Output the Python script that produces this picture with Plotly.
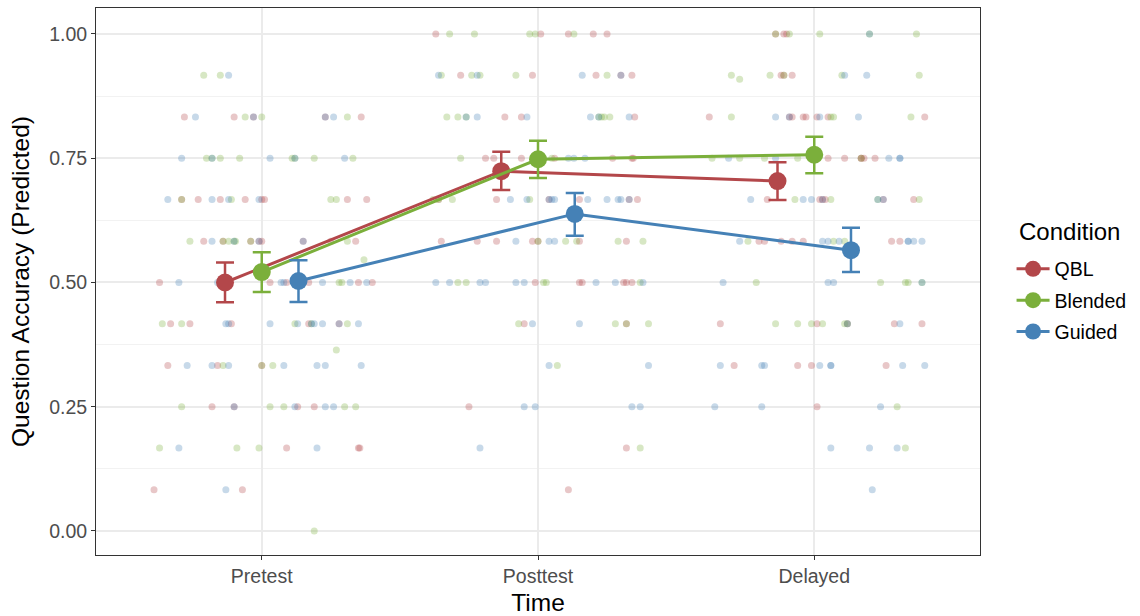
import plotly.graph_objects as go

# ---------------- data ----------------
times = ["Pretest", "Posttest", "Delayed"]
conditions = ["QBL", "Blended", "Guided"]

# model-predicted means and 95% CI bounds (per time)
qbl_mean = [0.500, 0.724, 0.704]
qbl_hi = [0.540, 0.763, 0.742]
qbl_lo = [0.460, 0.686, 0.666]
blended_mean = [0.521, 0.748, 0.757]
blended_hi = [0.561, 0.785, 0.793]
blended_lo = [0.481, 0.710, 0.720]
guided_mean = [0.503, 0.638, 0.565]
guided_hi = [0.545, 0.680, 0.610]
guided_lo = [0.461, 0.594, 0.521]

# raw (jittered) observations: accuracy and horizontal jitter, per condition & time
qbl_pre_acc = [0.833]*5 + [0.667]*8 + [0.583]*8 + [0.5]*8 + [0.417]*5 + [0.333]*3 + [0.25]*4 + [0.167]*3 + [0.083]*2
qbl_pre_jit = [-0.28, -0.10, -0.03, 0.23, 0.36,
               -0.29, -0.23, -0.15, -0.06, 0.00, 0.01, 0.31, 0.38,
               -0.21, -0.14, -0.04, -0.01, 0.00, 0.15, 0.34, 0.25,
               -0.37, -0.13, 0.03, 0.09, 0.12, 0.17, 0.35, 0.40,
               -0.33, -0.26, -0.11, 0.17, 0.28,
               -0.34, -0.16, 0.00,
               -0.18, -0.10, 0.13, 0.19,
               0.09, 0.35, 0.355,
               -0.39, -0.07]
qbl_post_acc = [1.0]*5 + [0.917]*5 + [0.833]*3 + [0.75]*7 + [0.667]*6 + [0.583]*7 + [0.5]*6 + [0.417]*2 + [0.25] + [0.167] + [0.083]
qbl_post_jit = [-0.37, 0.01, 0.11, 0.20, 0.25,
                -0.28, -0.02, 0.21, 0.30, 0.34,
                -0.12, -0.06, 0.35,
                -0.19, -0.16, -0.06, 0.06, 0.27, 0.34, 0.345,
                -0.36, -0.15, 0.04, 0.15, 0.33, 0.36,
                -0.35, -0.22, -0.15, -0.02, 0.00, 0.15, 0.32,
                -0.01, 0.15, 0.16, 0.31, 0.32, 0.34,
                -0.05, 0.32,
                -0.25,
                0.32,
                0.11]
qbl_del_acc = [1.0]*3 + [0.917]*3 + [0.833]*8 + [0.75]*6 + [0.667]*6 + [0.583]*7 + [0.417]*5 + [0.333]*4 + [0.25]
qbl_del_jit = [-0.14, -0.11, -0.10,
               -0.12, -0.11, -0.08,
               -0.38, -0.09, -0.08, -0.04, -0.03, 0.01, 0.05, 0.40,
               0.05, 0.11, 0.17, 0.17, 0.18, 0.22,
               -0.17, 0.02, 0.03, 0.04, 0.25, 0.36,
               -0.20, -0.18, -0.12, -0.08, -0.04, 0.28, 0.31,
               -0.34, 0.01, 0.12, 0.29, 0.39,
               -0.29, -0.06, -0.01, 0.26,
               0.01]

blended_pre_acc = [0.917]*2 + [0.833]*3 + [0.75]*8 + [0.667]*4 + [0.583]*7 + [0.546] + [0.5]*2 + [0.417]*5 + [0.364] + [0.333]*3 + [0.25]*5 + [0.167]*3 + [0.0]
blended_pre_jit = [-0.21, -0.15,
                   -0.06, 0.00, 0.31,
                   -0.20, -0.18, -0.15, -0.08, 0.11, 0.12, 0.19, 0.33,
                   -0.29, -0.11, 0.25, 0.27,
                   -0.26, -0.14, -0.12, -0.10, -0.095, -0.04, 0.31,
                   0.37,
                   0.28, 0.29,
                   -0.36, -0.29, 0.12, 0.18, 0.31,
                   0.27,
                   -0.14, 0.00, 0.04,
                   -0.29, 0.03, 0.08, 0.30, 0.34,
                   -0.37, -0.09, -0.01,
                   0.19]
blended_post_acc = [1.0]*5 + [0.917]*5 + [0.833]*7 + [0.75]*3 + [0.667]*4 + [0.583]*5 + [0.5]*5 + [0.417]*4 + [0.333] + [0.167]
blended_post_jit = [-0.32, -0.23, -0.03, -0.01, 0.13,
                    -0.35, -0.24, -0.21, -0.08, 0.25,
                    -0.33, -0.29, -0.26, 0.22, 0.23, 0.24, 0.26,
                    -0.28, 0.02, 0.05,
                    -0.38, -0.36, -0.31, -0.03,
                    0.00, 0.10, 0.14, 0.29, 0.38,
                    -0.29, -0.26, 0.02, 0.03, 0.37,
                    -0.07, 0.28, 0.32, 0.40,
                    0.07,
                    0.37]
blended_del_acc = [1.0]*5 + [0.917]*5 + [0.909] + [0.833]*4 + [0.75]*6 + [0.667]*4 + [0.583]*3 + [0.5]*5 + [0.417]*6 + [0.25] + [0.167]
blended_del_jit = [-0.14, -0.09, 0.02, 0.20, 0.37,
                   -0.30, -0.16, -0.11, 0.10, 0.38,
                   -0.27,
                   -0.30, 0.06, 0.07, 0.35,
                   -0.37, -0.27, -0.18, -0.06, 0.01, 0.17,
                   -0.07, 0.06, 0.23, 0.38,
                   -0.24, 0.07, 0.11,
                   -0.21, 0.24, 0.33, 0.34, 0.39,
                   -0.14, -0.06, -0.01, 0.03, 0.11, 0.12,
                   0.30,
                   0.33]

guided_pre_acc = [0.917] + [0.833]*4 + [0.75]*5 + [0.667]*4 + [0.583]*4 + [0.5]*9 + [0.417]*9 + [0.333]*7 + [0.25]*4 + [0.167]*2 + [0.083]
guided_pre_jit = [-0.12,
                  -0.24, -0.03, 0.23, 0.26,
                  -0.29, -0.18, 0.03, 0.12, 0.30,
                  -0.34, -0.18, -0.12, -0.01,
                  -0.18, -0.10, -0.01, 0.15,
                  -0.30, -0.16, -0.13, 0.07, 0.08, 0.12, 0.22, 0.32, 0.38,
                  -0.13, -0.12, 0.03, 0.13, 0.18, 0.19, 0.22, 0.28, 0.35,
                  -0.27, -0.18, -0.12, 0.08, 0.20, 0.23, 0.36,
                  -0.10, 0.12, 0.23, 0.26,
                  -0.30, 0.20,
                  -0.13]
guided_post_acc = [0.917]*4 + [0.833]*6 + [0.75]*3 + [0.667]*10 + [0.583]*3 + [0.5]*9 + [0.417]*2 + [0.333]*2 + [0.25]*4 + [0.167]
guided_post_jit = [-0.36, -0.22, 0.16, 0.30,
                   -0.26, -0.22, -0.04, 0.19, 0.22, 0.33,
                   0.11, 0.13, 0.17,
                   -0.10, -0.04, 0.04, 0.05, 0.06, 0.18, 0.25, 0.29, 0.30, 0.33,
                   -0.08, 0.04, 0.06,
                   -0.37, -0.32, -0.21, -0.19, -0.08, -0.05, 0.21, 0.28, 0.38,
                   -0.02, 0.15,
                   0.04, 0.40,
                   -0.05, -0.01, 0.34, 0.37,
                   -0.21]
guided_del_acc = [1.0] + [0.917]*2 + [0.833]*4 + [0.75]*6 + [0.667]*6 + [0.583]*8 + [0.5]*4 + [0.417]*2 + [0.333]*8 + [0.25]*3 + [0.167]*3 + [0.083]
guided_del_jit = [0.20,
                  0.11, 0.19,
                  -0.14, -0.09, 0.02, 0.16,
                  -0.31, -0.14, 0.01, 0.27, 0.31, 0.31,
                  -0.23, -0.04, -0.01, 0.03, 0.23, 0.25,
                  -0.27, 0.03, 0.05, 0.09, 0.34, 0.34, 0.36, 0.39,
                  -0.33, 0.05, 0.07, 0.39,
                  0.12, 0.31,
                  -0.34, -0.19, -0.18, 0.02, 0.06, 0.06, 0.32, 0.40,
                  -0.36, -0.19, 0.24,
                  0.06, 0.20, 0.30,
                  0.21]

# ---------------- style ----------------
colors = {"QBL": "#B3474A", "Blended": "#7BAF3B", "Guided": "#4581B6"}
dodge = {"QBL": -0.133, "Blended": 0.0, "Guided": 0.133}
font = "Liberation Sans, Arial, sans-serif"

raw = {
    "QBL": [(qbl_pre_jit, qbl_pre_acc), (qbl_post_jit, qbl_post_acc), (qbl_del_jit, qbl_del_acc)],
    "Blended": [(blended_pre_jit, blended_pre_acc), (blended_post_jit, blended_post_acc), (blended_del_jit, blended_del_acc)],
    "Guided": [(guided_pre_jit, guided_pre_acc), (guided_post_jit, guided_post_acc), (guided_del_jit, guided_del_acc)],
}
summ = {
    "QBL": (qbl_mean, qbl_lo, qbl_hi),
    "Blended": (blended_mean, blended_lo, blended_hi),
    "Guided": (guided_mean, guided_lo, guided_hi),
}

fig = go.Figure()

# jittered raw points
for cond in conditions:
    xs, ys = [], []
    for ti, (jit, acc) in enumerate(raw[cond]):
        n = min(len(jit), len(acc))
        xs += [ti + 1 + j for j in jit[:n]]
        ys += acc[:n]
    fig.add_trace(go.Scatter(
        x=xs, y=ys, mode="markers", showlegend=False, hoverinfo="skip",
        marker=dict(size=7, color=colors[cond], opacity=0.3, line=dict(width=0)),
    ))

# means with CI error bars
for cond in conditions:
    m, lo, hi = summ[cond]
    xs = [i + 1 + dodge[cond] for i in range(len(times))]
    fig.add_trace(go.Scatter(
        x=xs, y=m, mode="lines+markers", name=cond, legendgroup=cond,
        line=dict(color=colors[cond], width=3),
        marker=dict(size=18, color=colors[cond]),
        error_y=dict(type="data", symmetric=False,
                     array=[h - v for h, v in zip(hi, m)],
                     arrayminus=[v - l for l, v in zip(lo, m)],
                     color=colors[cond], thickness=2.5, width=9),
    ))

fig.add_annotation(
    text="Condition", xref="paper", yref="paper", x=1.0419, y=0.5905,
    xanchor="left", yanchor="middle", showarrow=False,
    font=dict(size=24, color="black"),
)

fig.update_layout(
    width=1140, height=616,
    margin=dict(l=96, r=160, t=8, b=61, autoexpand=False),
    paper_bgcolor="white", plot_bgcolor="white",
    font=dict(family=font, color="black"),
    legend=dict(
        font=dict(size=19.5, color="black"),
        x=1.0357, xanchor="left", y=0.465, yanchor="middle",
        itemwidth=33, tracegroupgap=3,
    ),
    xaxis=dict(
        range=[0.4, 3.6], tickvals=[1, 2, 3], ticktext=times, automargin=False,
        showgrid=True, gridcolor="#EBEBEB", gridwidth=1.6,
        zeroline=False, showline=True, linecolor="#333333", linewidth=1, mirror=True,
        ticks="outside", ticklen=4, tickcolor="#333333", tickwidth=1,
        tickfont=dict(size=19.5, color="#4D4D4D"),
        title=dict(text="Time", font=dict(size=24.5, color="black"), standoff=8),
    ),
    yaxis=dict(
        range=[-0.0483, 1.0523], tickvals=[0, 0.25, 0.5, 0.75, 1.0], automargin=False,
        ticktext=["0.00", "0.25", "0.50", "0.75", "1.00"],
        showgrid=True, gridcolor="#EBEBEB", gridwidth=1.6,
        minor=dict(tickvals=[0.125, 0.375, 0.625, 0.875], showgrid=True,
                   gridcolor="#F2F2F2", gridwidth=0.8, ticks=""),
        zeroline=False, showline=True, linecolor="#333333", linewidth=1, mirror=True,
        ticks="outside", ticklen=4, tickcolor="#333333", tickwidth=1,
        tickfont=dict(size=19.5, color="#4D4D4D"),
        title=dict(text="Question Accuracy (Predicted)", font=dict(size=24.5, color="black"), standoff=12),
    ),
)

fig.write_html("out.html")
